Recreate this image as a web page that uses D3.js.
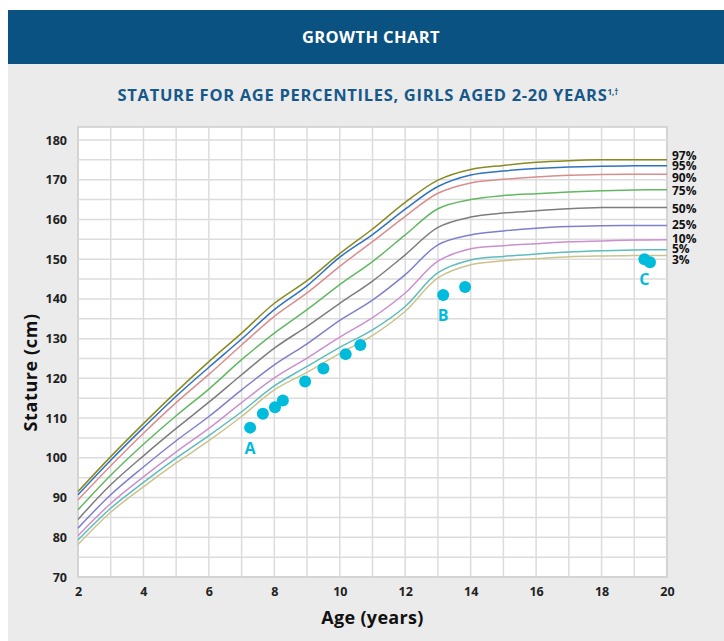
<!DOCTYPE html>
<html>
<head>
<meta charset="utf-8">
<script src="https://cdn.jsdelivr.net/npm/d3@7"></script>
<style>
  body { margin: 0; background: #fff; }
  svg text { font-family: "Open Sans", Lato, sans-serif; }
</style>
</head>
<body>
<div id="chart"></div>
<script>
// ages in years
const ages = [2, 3, 4, 5, 6, 7, 8, 9, 10, 11, 12, 13, 14, 15, 16, 17, 18, 19, 20];

// stature (cm) per percentile
const p97 = [91.5, 100.3, 108.6, 116.6, 124.2, 131.4, 138.9, 144.6, 151.4, 157.6, 164.3, 169.9, 172.6, 173.6, 174.4, 174.8, 175.0, 175.0, 175.0];
const p95 = [90.7, 99.4, 107.6, 115.5, 122.8, 129.9, 137.3, 143.3, 150.5, 156.2, 162.6, 168.3, 171.2, 172.2, 172.8, 173.2, 173.4, 173.5, 173.5];
const p90 = [89.4, 98.0, 106.2, 113.9, 121.0, 128.4, 135.6, 141.5, 148.2, 154.4, 160.8, 166.6, 169.2, 170.1, 170.7, 171.1, 171.3, 171.4, 171.4];
const p75 = [86.9, 95.6, 103.4, 110.6, 117.3, 124.7, 131.4, 137.3, 143.6, 149.4, 156.1, 162.7, 165.0, 166.0, 166.5, 166.9, 167.2, 167.4, 167.5];
const p50 = [84.5, 93.2, 100.5, 107.4, 114.0, 120.9, 127.6, 133.1, 138.9, 144.5, 151.1, 158.0, 160.6, 161.6, 162.2, 162.7, 163.0, 163.0, 163.0];
const p25 = [82.3, 90.7, 97.7, 104.3, 110.4, 117.1, 123.4, 128.7, 134.6, 139.7, 146.1, 153.6, 156.1, 157.1, 157.8, 158.2, 158.4, 158.5, 158.5];
const p10 = [80.4, 88.5, 95.2, 101.5, 107.4, 113.9, 120.1, 125.1, 130.4, 135.3, 141.5, 149.5, 152.6, 153.4, 153.9, 154.4, 154.6, 154.8, 154.9];
const p5  = [79.3, 87.3, 93.8, 99.9, 105.6, 111.6, 118.1, 123.0, 127.8, 132.2, 138.1, 146.6, 149.8, 150.7, 151.3, 151.8, 152.1, 152.3, 152.4];
const p3  = [78.2, 86.3, 92.7, 98.7, 104.3, 110.4, 117.1, 121.5, 126.3, 130.8, 136.9, 145.3, 148.6, 149.6, 150.1, 150.6, 150.8, 150.9, 150.9];

const seriesNames = ["97%", "95%", "90%", "75%", "50%", "25%", "10%", "5%", "3%"];
const seriesColors = ["#8a8a22", "#2f72c0", "#d98e8e", "#62b862", "#7d7d7d", "#7f7fcc", "#cc8fcf", "#5fbcbc", "#c9c48e"];
const labelY = [155.5, 166, 177.5, 191, 209, 225, 238.5, 249, 259.5]; // label nudges (px) to avoid overlap

// patient measurements
const pointAge = [7.26, 7.65, 8.02, 8.26, 8.94, 9.50, 10.18, 10.63, 13.16, 13.83, 19.31, 19.48];
const pointHeight = [107.6, 111.1, 112.7, 114.4, 119.2, 122.5, 126.1, 128.4, 141.0, 143.0, 150.0, 149.2];
const markLabels = ["A", "B", "C"];
const markAge = [7.26, 13.16, 19.31];
const markHeight = [107.6, 141.0, 150.0];

const xTicks = [2, 4, 6, 8, 10, 12, 14, 16, 18, 20];
const yTicks = [70, 80, 90, 100, 110, 120, 130, 140, 150, 160, 170, 180];

const width = 724, height = 641;

const svg = d3.select("#chart").append("svg")
    .attr("width", width)
    .attr("height", height);

// header band and panel
svg.append("rect").attr("x", 8).attr("y", 64).attr("width", width - 8).attr("height", height - 64).attr("fill", "#ebebeb");
svg.append("rect").attr("x", 8).attr("y", 10).attr("width", width - 8).attr("height", 54).attr("fill", "#0a5282");

svg.append("text")
    .attr("x", 371).attr("y", 43)
    .attr("text-anchor", "middle")
    .attr("fill", "#fff")
    .style("font-size", "16.5px").style("font-weight", 700)
    .style("letter-spacing", "0.4px")
    .text("GROWTH CHART");

const sub = svg.append("text")
    .attr("x", 368).attr("y", 101)
    .attr("text-anchor", "middle")
    .attr("fill", "#17588a")
    .style("font-size", "16.5px").style("font-weight", 700)
    .style("letter-spacing", "0.7px");
sub.append("tspan").text("STATURE FOR AGE PERCENTILES, GIRLS AGED 2-20 YEARS");
sub.append("tspan").attr("dy", -6).style("font-size", "8px").style("letter-spacing", "0px").text("1,†");

const x = d3.scaleLinear().domain([2, 20]).range([78, 667]);
const y = d3.scaleLinear().domain([70, 180]).range([577, 140]);

// plot background
svg.append("rect")
    .attr("x", x(2)).attr("y", y(183.3))
    .attr("width", x(20) - x(2)).attr("height", y(70) - y(183.3))
    .attr("fill", "#fff")
    .attr("stroke", "#d4d4d4").attr("stroke-width", 2);

const grid = svg.append("g").attr("stroke", "#dcdcdc").attr("stroke-width", 1.5);
grid.selectAll(".vg").data(d3.range(3, 20)).enter().append("line")
    .attr("x1", d => x(d)).attr("x2", d => x(d))
    .attr("y1", y(183.3)).attr("y2", y(70));
grid.selectAll(".hg").data(d3.range(75, 185, 5)).enter().append("line")
    .attr("x1", x(2)).attr("x2", x(20))
    .attr("y1", d => y(d)).attr("y2", d => y(d));

// axes
const yAxis = svg.append("g")
    .attr("transform", `translate(${x(2)},0)`)
    .call(d3.axisLeft(y).tickValues(yTicks).tickSize(0).tickPadding(11));
const xAxis = svg.append("g")
    .attr("transform", `translate(0,${y(70)})`)
    .call(d3.axisBottom(x).tickValues(xTicks).tickSize(0).tickPadding(10));
[xAxis, yAxis].forEach(a => {
    a.select(".domain").remove();
    a.selectAll("text")
        .attr("fill", "#222")
        .style("font-family", "'Open Sans', sans-serif")
        .style("font-size", "12.5px").style("font-weight", 700);
});

svg.append("text")
    .attr("x", x(11)).attr("y", 624)
    .attr("text-anchor", "middle")
    .attr("fill", "#111")
    .style("font-size", "18px").style("font-weight", 700)
    .style("letter-spacing", "0.3px")
    .text("Age (years)");

svg.append("text")
    .attr("transform", `translate(37,${y(121.5)}) rotate(-90)`)
    .attr("text-anchor", "middle")
    .attr("fill", "#111")
    .style("font-size", "18px").style("font-weight", 700)
    .style("letter-spacing", "0.6px")
    .text("Stature (cm)");

// percentile curves
const allSeries = [p97, p95, p90, p75, p50, p25, p10, p5, p3];
const line = d3.line()
    .x((d, i) => x(ages[i]))
    .y(d => y(d))
    .curve(d3.curveCatmullRom.alpha(0.5));

svg.append("g").selectAll("path").data(allSeries).enter().append("path")
    .attr("d", line)
    .attr("fill", "none")
    .attr("stroke", (d, i) => seriesColors[i])
    .attr("stroke-width", 1.5);

svg.append("g").selectAll("text").data(seriesNames).enter().append("text")
    .attr("x", x(20) + 5)
    .attr("y", (d, i) => labelY[i])
    .attr("dy", "0.35em")
    .attr("fill", "#111")
    .style("font-size", "12px").style("font-weight", 700)
    .text(d => d);

// measurements
svg.append("g").selectAll("circle").data(pointAge).enter().append("circle")
    .attr("cx", d => x(d))
    .attr("cy", (d, i) => y(pointHeight[i]))
    .attr("r", 6)
    .attr("fill", "#00bcdc");

svg.append("g").selectAll("text").data(markLabels).enter().append("text")
    .attr("x", (d, i) => x(markAge[i]))
    .attr("y", (d, i) => y(markHeight[i]) + 26)
    .attr("text-anchor", "middle")
    .attr("fill", "#00bcdc")
    .style("font-size", "16px").style("font-weight", 700)
    .text(d => d);
</script>
</body>
</html>
